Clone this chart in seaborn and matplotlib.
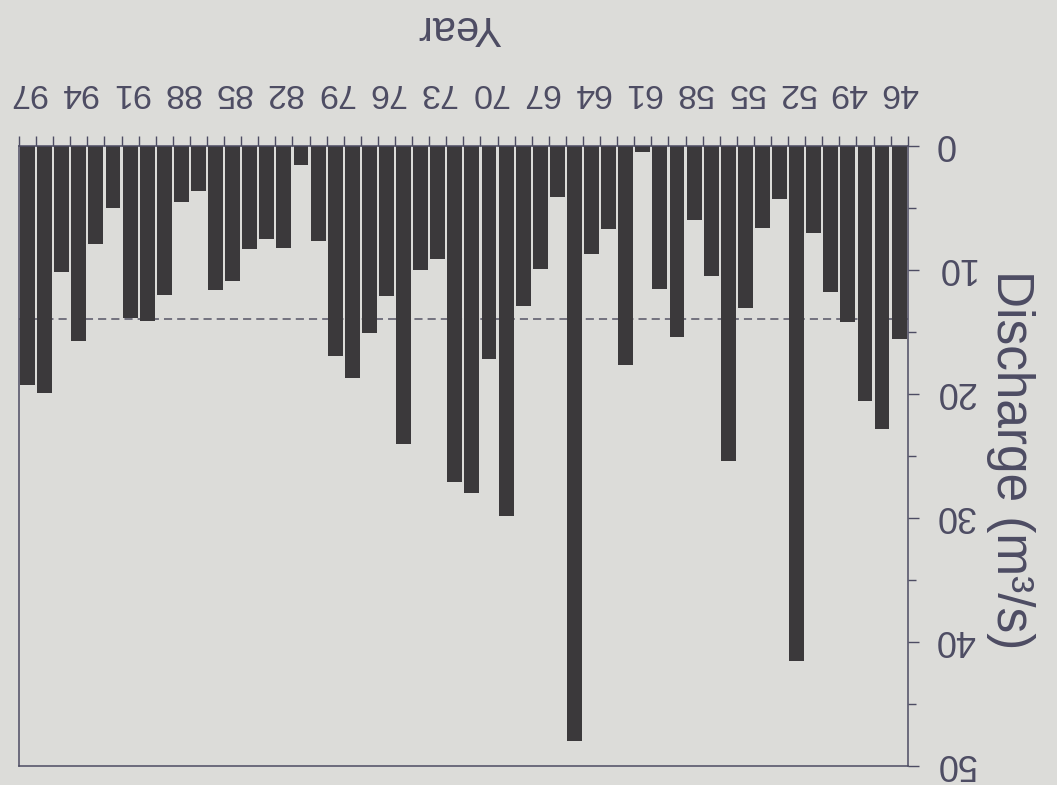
import numpy as np
import pandas as pd
import matplotlib
matplotlib.use("Agg")
import matplotlib.pyplot as plt
import matplotlib.transforms as mtransforms
from matplotlib.ticker import FixedLocator
import seaborn as sns

# Annual discharge record, 1946-1997 (two-digit years)
years = list(range(46, 98))
discharge = [
    15.6, 22.8, 20.6, 14.2, 11.8, 7.0, 41.5, 4.3, 6.6, 13.1,   # 46-55
    25.4, 10.5, 6.0, 15.4, 11.5, 0.5, 17.7, 6.7, 8.7, 48.0,    # 56-65
    4.1, 9.9, 12.9, 29.8, 17.2, 28.0, 27.1, 9.1, 10.0, 24.0,   # 66-75
    12.1, 15.1, 18.7, 16.9, 7.7, 1.5, 8.2, 7.5, 8.3, 10.9,     # 76-85
    11.6, 3.6, 4.5, 12.0, 14.1, 13.9, 5.0, 7.9, 15.7, 10.2,    # 86-95
    19.9, 19.3,                                                # 96-97
]
labelled_years = years[::3]
y_major = [0, 10, 20, 30, 40, 50]
y_minor = [5, 15, 25, 35, 45]

paper = "#dcdcd9"
bar_color = "#3b393b"
ink = "#4d4c63"

sns.set_style("ticks")
plt.rcParams["font.family"] = ["Liberation Sans", "DejaVu Sans"]

df = pd.DataFrame({"year": [str(y) for y in years], "discharge": discharge})

fig = plt.figure(figsize=(10.57, 7.85), dpi=100, facecolor=paper)
ax = fig.add_axes([19 / 1057, 1 - 766 / 785, 888.7 / 1057, 620 / 785])
ax.set_facecolor(paper)

sns.barplot(data=df, x="year", y="discharge", order=df["year"], color=bar_color,
            saturation=1, width=0.87, linewidth=0, ax=ax, zorder=2)

mean_q = float(np.mean(discharge))
ax.axhline(mean_q, color="#6a6977", lw=1.3, dashes=(4.5, 2.8), zorder=1)

# the page is printed upside down: both axes run reversed
n = len(years)
ax.set_xlim(n - 0.5, -0.5)
ax.set_ylim(50, 0)

pos = {y: i for i, y in enumerate(years)}
ax.xaxis.set_major_locator(FixedLocator([pos[y] for y in labelled_years]))
ax.set_xticklabels([str(y) for y in labelled_years])
ax.xaxis.set_minor_locator(FixedLocator(np.arange(-0.5, n, 1.0)))
ax.xaxis.tick_top()
ax.xaxis.set_label_position("top")
ax.tick_params(axis="x", which="major", length=0, pad=27, labelsize=24.5,
               labelrotation=180, labelcolor=ink)
ax.tick_params(axis="x", which="minor", length=7.3, width=1.0, color=ink,
               direction="out", top=True, bottom=False)

ax.yaxis.set_major_locator(FixedLocator(y_major))
ax.yaxis.set_minor_locator(FixedLocator(y_minor))
ax.yaxis.tick_right()
ax.yaxis.set_label_position("right")
ax.tick_params(axis="y", which="major", length=7.7, width=1.0, color=ink, pad=12,
               labelsize=26, labelrotation=180, labelcolor=ink, direction="out")
ax.tick_params(axis="y", which="minor", length=5.5, width=1.0, color=ink,
               direction="out", right=True, left=False)

# upside-down digits sit a little low; lift them onto their ticks
lift = mtransforms.ScaledTranslation(0, 4.5 / 72, fig.dpi_scale_trans)
for tick in ax.yaxis.get_major_ticks():
    tick.label2.set_transform(tick.label2.get_transform() + lift)

for side in ["left", "right", "top", "bottom"]:
    ax.spines[side].set_visible(True)
    ax.spines[side].set_color(ink)
    ax.spines[side].set_linewidth(1.1)

ax.set_xlabel("Year", fontsize=30, color=ink, rotation=180, va="center", ha="center")
ax.xaxis.set_label_coords(0.4957, 1.192)
ax.set_ylabel("Discharge (m³/s)", fontsize=37, color=ink, rotation=270,
              va="center", ha="center")
ax.yaxis.set_label_coords(1.116, 0.4935)

fig.savefig("out.png", dpi=100, facecolor=paper)
